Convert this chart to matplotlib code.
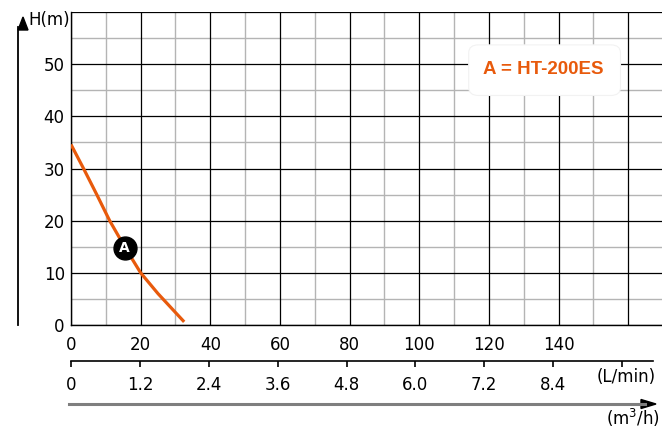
import matplotlib
matplotlib.use("Agg")
import matplotlib.pyplot as plt
from matplotlib.patches import FancyBboxPatch, Polygon

# curva H x Q
vazao_lmin = [0, 3.6, 7.4, 11.1, 15.4, 20.0, 25.0, 30.0, 32.5]
altura_m = [34.6, 30, 25, 20, 15, 10, 6.0, 2.4, 0.6]

ponto_A = (15.4, 14.7)
legenda = "A = HT-200ES"

ticks_lmin = [0, 20, 40, 60, 80, 100, 120, 140]
ticks_h = [0, 10, 20, 30, 40, 50]
ticks_m3h = [0, 1.2, 2.4, 3.6, 4.8, 6.0, 7.2, 8.4, 9.6]
labels_m3h = ["0", "1.2", "2.4", "3.6", "4.8", "6.0", "7.2", "8.4", ""]

laranja = "#E85A0C"
W, H = 662, 430

plt.rcParams["font.family"] = ["DejaVu Sans"]
fig = plt.figure(figsize=(W / 100, H / 100), dpi=100)

# eixo principal
ax = fig.add_axes([71 / W, 105 / H, 592 / W, 313 / H])
ax.set_xlim(0, 170)
ax.set_ylim(0, 60)

for x in range(0, 171, 10):
    if x % 20 == 0:
        ax.axvline(x, color="black", lw=0.9, zorder=1)
    else:
        ax.axvline(x, color="#b4b4b4", lw=1.0, zorder=0.5)
for y in range(0, 61, 5):
    if y % 10 == 0:
        ax.axhline(y, color="black", lw=0.9, zorder=1)
    else:
        ax.axhline(y, color="#b4b4b4", lw=1.0, zorder=0.5)

for s in ["top", "right"]:
    ax.spines[s].set_visible(False)
ax.spines["left"].set_linewidth(1.0)
ax.spines["bottom"].set_linewidth(1.0)

ax.set_xticks(ticks_lmin)
ax.set_yticks(ticks_h)
ax.tick_params(axis="x", length=0, pad=8, labelsize=12)
ax.tick_params(axis="y", length=0, pad=4.5, labelsize=12)

ax.plot(vazao_lmin, altura_m, color=laranja, lw=2.3, solid_capstyle="butt",
        solid_joinstyle="round", zorder=3)
ax.plot(*ponto_A, "o", color="black", ms=16.5, zorder=4)
ax.text(*ponto_A, "A", color="white", fontsize=10, fontweight="bold",
        ha="center", va="center", zorder=5)

# caixa da legenda
caixa = FancyBboxPatch((114.2, 44.0), 43.6, 9.7,
                       boxstyle="round,pad=0,rounding_size=2.8",
                       fc="white", ec="#f2f2f2", lw=0.8, zorder=6,
                       mutation_aspect=0.55)
ax.add_patch(caixa)
ax.text(135.6, 48.9, legenda, color=laranja, fontsize=13.5, fontweight="bold",
        family="Liberation Sans", ha="center", va="center", zorder=7)

# segundo eixo (m3/h)
ax2 = fig.add_axes([71 / W, 69 / H, 582 / W, 0.0001])
ax2.set_xlim(0, 10.14)
for s in ["top", "left", "right"]:
    ax2.spines[s].set_visible(False)
ax2.spines["bottom"].set_linewidth(1.2)
ax2.set_yticks([])
ax2.set_xticks(ticks_m3h)
ax2.set_xticklabels(labels_m3h)
ax2.tick_params(axis="x", direction="out", length=4.5, width=1.2, pad=6, labelsize=12)

# seta do eixo vertical
fig.add_artist(plt.Line2D([18 / W, 18 / W], [105 / H, 403 / H], color="black", lw=1.3))
fig.add_artist(Polygon([(18 / W, 400 / H), (28 / W, 400 / H), (23 / W, 413 / H)],
                       closed=True, fc="black", ec="black", transform=fig.transFigure))
fig.text(28 / W, 410 / H, "H(m)", fontsize=12, ha="left", va="center")

# seta horizontal (m3/h)
fig.add_artist(plt.Line2D([69 / W, 645 / W], [26 / H, 26 / H], color="#7f7f7f", lw=2.2))
fig.add_artist(Polygon([(641 / W, 21.5 / H), (641 / W, 30.5 / H), (656 / W, 26 / H)],
                       closed=True, fc="black", ec="black", transform=fig.transFigure))

fig.text(656 / W, 53 / H, "(L/min)", fontsize=12, ha="right", va="center")
fig.text(660 / W, 12 / H, "(m$^3$/h)", fontsize=12, ha="right", va="center")

fig.savefig("out.png", dpi=100)
